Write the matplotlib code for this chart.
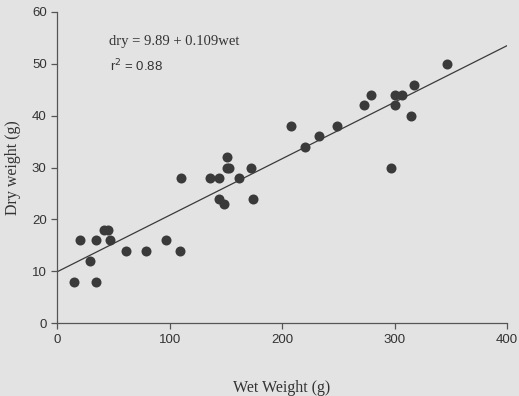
import matplotlib
matplotlib.use("Agg")
import matplotlib.pyplot as plt
import numpy as np

# wet vs dry weight readings (g)
wet = [15, 20, 29, 35, 35, 42, 45, 47, 61, 79, 97, 109,
       110, 136, 144, 144, 148, 151, 151, 153, 162, 172, 174,
       208, 220, 233, 249, 273, 279, 297, 300, 300, 307, 315, 317, 347]
dry = [8, 16, 12, 8, 16, 18, 18, 16, 14, 14, 16, 14,
       28, 28, 28, 24, 23, 32, 30, 30, 28, 30, 24,
       38, 34, 36, 38, 42, 44, 30, 44, 42, 44, 40, 46, 50]

intercept = 9.89
slope = 0.109
fit_x = np.array([0, 400])

bg = "#e3e3e3"
fig = plt.figure(figsize=(5.19, 3.96), dpi=100, facecolor=bg)
ax = fig.add_axes([0.11, 0.184, 0.867, 0.786])
ax.set_facecolor(bg)

ax.scatter(wet, dry, s=52, color="#3a3a3a", zorder=3, linewidths=0)
ax.plot(fit_x, intercept + slope * fit_x, color="#3a3a3a", lw=0.9)

ax.set_xlim(0, 400)
ax.set_ylim(0, 60)
ax.set_xticks([0, 100, 200, 300, 400])
ax.set_yticks([0, 10, 20, 30, 40, 50, 60])
for s in ("top", "right"):
    ax.spines[s].set_visible(False)
for s in ("left", "bottom"):
    ax.spines[s].set_color("#555555")
    ax.spines[s].set_linewidth(0.9)
ax.tick_params(colors="#555555", length=4, width=0.9, labelsize=9.5,
               labelcolor="#333333")
for lab in ax.get_xticklabels() + ax.get_yticklabels():
    lab.set_family("Liberation Sans")

ax.set_xlabel("Wet Weight (g)", family="Liberation Serif", fontsize=11.5,
              color="#333333", labelpad=25)
ax.set_ylabel("Dry weight (g)", family="Liberation Serif", fontsize=11.5,
              color="#333333", labelpad=8)

ax.text(0.115, 0.895, "dry = 9.89 + 0.109wet", transform=ax.transAxes,
        family="Liberation Serif", fontsize=10.5, color="#333333")
ax.text(0.118, 0.81, "r$^2$ = 0.88", transform=ax.transAxes,
        family="Liberation Sans", fontsize=9.5, color="#333333")

fig.savefig("out.png", dpi=100, facecolor=bg)
